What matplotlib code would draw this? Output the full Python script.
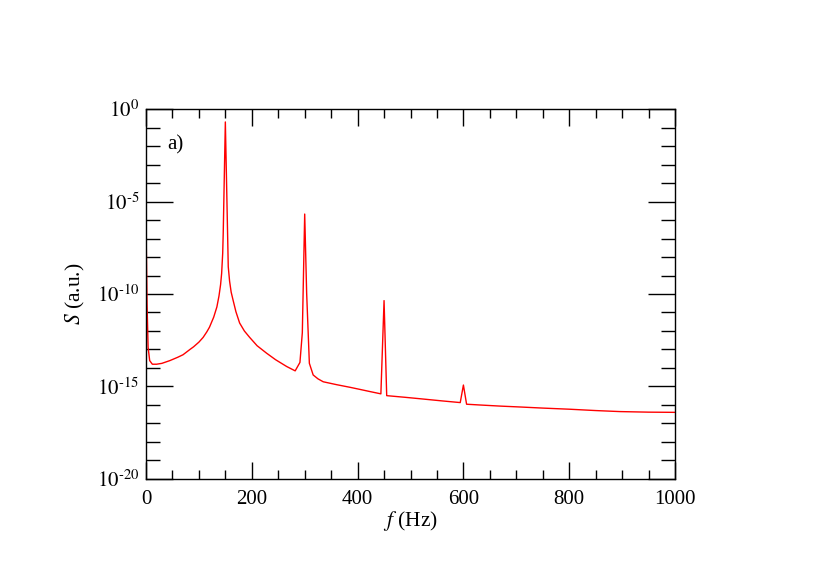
import matplotlib
matplotlib.use("Agg")
import matplotlib.pyplot as plt
import numpy as np

plt.rcParams['font.family'] = ['Liberation Serif', 'DejaVu Serif']
plt.rcParams['mathtext.fontset'] = 'stix'

# spectrum: frequency (Hz) and S (a.u.)
freq = [0, 2, 4, 7, 12, 20, 30, 45, 60, 70, 83, 90, 100, 108, 115, 120,
        128, 134, 138, 141, 143, 145, 146, 150,
        155.5, 158, 161, 164.5, 170, 177, 186, 196, 210, 228, 245, 266, 282,
        291, 295.5, 300, 303.7, 308.8,
        316, 325, 335, 360, 386, 404, 425, 444, 450,
        455, 490, 520, 560, 594, 600,
        606, 631, 670, 707, 750, 801, 850, 896, 950, 1000]
spec = [8e-7, 3e-11, 1.3e-13, 2.5e-14, 1.6e-14, 1.6e-14, 1.78e-14, 2.5e-14,
        3.8e-14, 5.2e-14, 1e-13, 1.4e-13, 2.5e-13, 4.5e-13, 9e-13, 1.6e-12,
        5.6e-12, 2e-11, 7.9e-11, 3.2e-10, 1.3e-9, 1.6e-8, 2e-7, 2e-1,
        3e-9, 5e-10, 1.26e-10, 4.8e-11, 1.1e-11, 2.7e-12, 1e-12, 4.5e-13,
        1.6e-13, 6.3e-14, 2.8e-14, 1.2e-14, 7e-15,
        2e-14, 8e-13, 2.1e-6, 1.1e-10, 1.8e-14,
        4.2e-15, 2.6e-15, 1.8e-15, 1.26e-15, 9e-16, 7e-16, 5.2e-16, 4e-16, 4.4e-11,
        3.2e-16, 2.6e-16, 2.15e-16, 1.66e-16, 1.35e-16, 1.2e-15,
        1.1e-16, 1e-16, 8.7e-17, 7.8e-17, 6.8e-17, 5.9e-17, 5e-17, 4.4e-17,
        4.1e-17, 4e-17]

xticks = [0, 200, 400, 600, 800, 1000]
yticks = [1e-20, 1e-15, 1e-10, 1e-5, 1e0]
ylabels = [r'$10^{\text{-20}}$', r'$10^{\text{-15}}$', r'$10^{\text{-10}}$',
           r'$10^{\text{-5}}$', r'$10^{0}$']

fig = plt.figure(figsize=(8.22, 5.88), dpi=100)
ax = fig.add_axes([0.1776, 0.1854, 0.6436, 0.6292])

ax.plot(freq, spec, color='red', lw=1.0)

ax.set_yscale('log')
ax.set_xlim(0, 1000)
ax.set_ylim(1e-20, 1e0)

ax.set_xticks(xticks)
ax.set_xticklabels([str(t) for t in xticks])
ax.set_xticks(np.arange(0, 1001, 50), minor=True)
ax.set_yticks(yticks)
ax.set_yticklabels(ylabels)
ax.set_yticks([10.0**k for k in range(-20, 1)], minor=True)
ax.yaxis.set_minor_formatter(matplotlib.ticker.NullFormatter())

ax.tick_params(which='both', direction='in', top=True, right=True, width=1.0,
               labelsize=15)
ax.tick_params(axis='x', which='major', length=12, pad=8)
ax.tick_params(axis='x', which='minor', length=6.5)
ax.tick_params(axis='y', which='major', length=19.5, pad=5)
ax.tick_params(axis='y', which='minor', length=10)
for s in ax.spines.values():
    s.set_linewidth(1.0)

ax.set_xlabel(r'$f$ (Hz)', fontsize=15.5)
ax.set_ylabel(r'$S$ (a.u.)', fontsize=15.5)
ax.xaxis.set_label_coords(0.5, -0.082)
ax.yaxis.set_label_coords(-0.112, 0.5)

ax.text(0.055, 0.903, 'a)', transform=ax.transAxes, fontsize=15,
        ha='center', va='center')

fig.savefig('out.png', dpi=100)
